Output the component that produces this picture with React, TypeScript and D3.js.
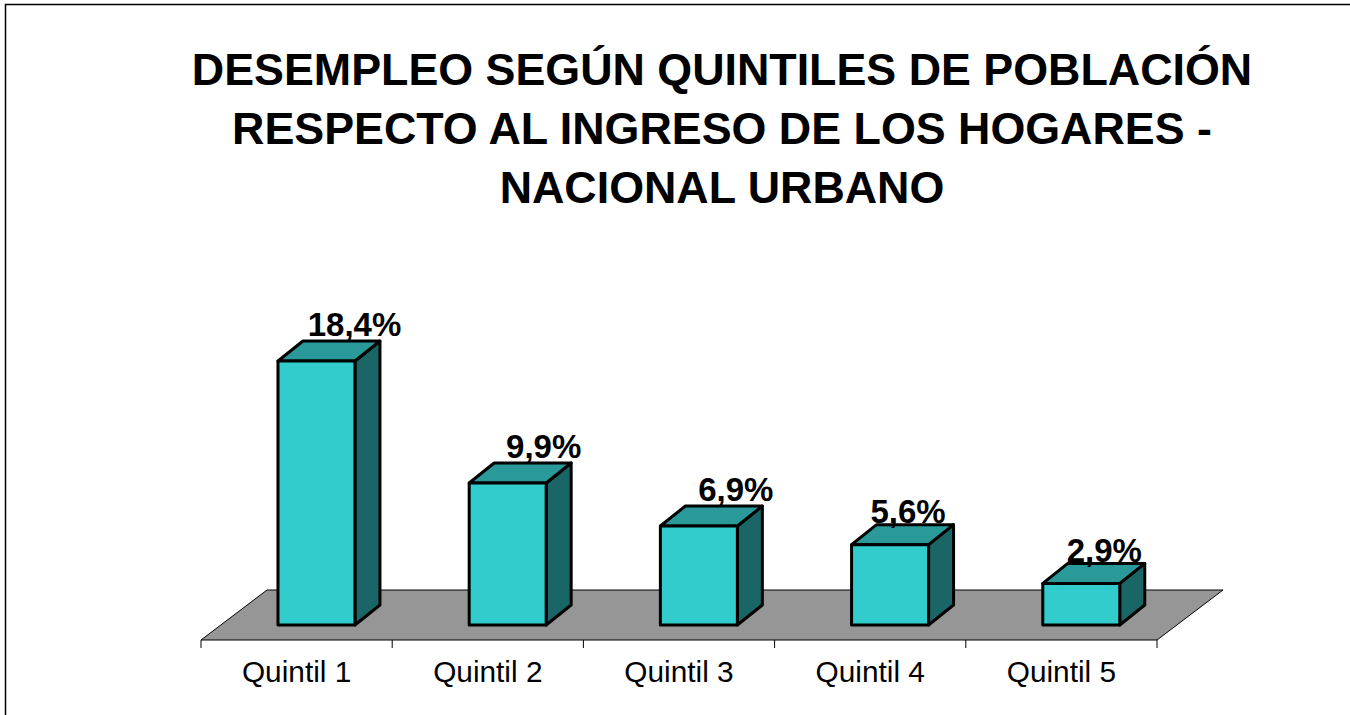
// App.tsx
import React, { useRef, useEffect } from 'react';
import * as d3 from 'd3';

const quintiles = ['Quintil 1', 'Quintil 2', 'Quintil 3', 'Quintil 4', 'Quintil 5'];
const desempleo = [18.4, 9.9, 6.9, 5.6, 2.9];
const titleLines = [
  'DESEMPLEO SEGÚN QUINTILES DE POBLACIÓN',
  'RESPECTO AL INGRESO DE LOS HOGARES -',
  'NACIONAL URBANO',
];

const WIDTH = 1350;
const HEIGHT = 715;
const FONT = '"Liberation Sans", Arial, sans-serif';

// hand placed labels, they do not sit at the same spot on every bar
const labelShiftX = [38, 36, 37, 18, 23];
const labelShiftY = [-25, -25, -25, -22, -21];

const App = () => {
  const svgRef = useRef<SVGSVGElement>(null);

  useEffect(() => {
    const svg = d3.select(svgRef.current);
    svg.selectAll('*').remove();

    const floor = { left: 201, right: 1157, front: 640, back: 590, dx: 66 };
    const depth = { dx: 25, dy: -20 };
    const baseY = 625;

    const x = d3.scaleBand()
      .domain(quintiles)
      .range([floor.left, floor.right]);

    // band only used for the categories, the ticks sit on the step boundaries
    const step = x.step();
    const barWidth = step * 0.4 + 0.5;
    const barX = (d: string) => x(d) + step * 0.4 + 0.5;

    const y = d3.scaleLinear().domain([0, 18.4]).range([baseY, 361]);

    const rows = quintiles.map((q, i) => ({ q, v: desempleo[i], i }));

    // outer border, only top and left are visible in the frame
    svg.append('path')
      .attr('d', `M5.5,${HEIGHT}V4.5H${WIDTH}`)
      .attr('fill', 'none')
      .attr('stroke', '#000')
      .attr('stroke-width', 1.5);

    // title
    svg.append('g')
      .selectAll('text')
      .data(titleLines)
      .enter()
      .append('text')
      .attr('x', 722)
      .attr('y', (d, i) => 85 + i * 59)
      .attr('text-anchor', 'middle')
      .style('font-family', FONT)
      .style('font-size', '44.8px')
      .style('font-weight', 'bold')
      .text(d => d);

    // floor
    svg.append('path')
      .attr('d', `M${floor.left},${floor.front}L${floor.left + floor.dx},${floor.back}H${floor.right + floor.dx}L${floor.right},${floor.front}Z`)
      .attr('fill', '#969696')
      .attr('stroke', '#000')
      .attr('stroke-width', 1);

    // category axis
    const axis = svg.append('g')
      .attr('transform', `translate(0,${floor.front})`)
      .call(d3.axisBottom(x).tickSize(0).tickPadding(0));
    axis.select('.domain').remove();
    axis.selectAll('text')
      .attr('y', 42)
      .attr('dy', 0)
      .attr('fill', '#000')
      .style('font-family', FONT)
      .style('font-size', '29.8px');

    svg.append('g')
      .selectAll('line')
      .data(d3.range(quintiles.length + 1))
      .enter()
      .append('line')
      .attr('x1', d => floor.left + d * step)
      .attr('x2', d => floor.left + d * step)
      .attr('y1', floor.front)
      .attr('y2', floor.front + 8)
      .attr('stroke', '#000')
      .attr('stroke-width', 1);

    // bars
    const bars = svg.append('g')
      .selectAll('g')
      .data(rows)
      .enter()
      .append('g')
      .attr('stroke', '#000')
      .attr('stroke-width', 3)
      .attr('stroke-linejoin', 'round');

    // right side
    bars.append('path')
      .attr('fill', '#1A6666')
      .attr('d', d => {
        const r = barX(d.q) + barWidth;
        return `M${r},${y(d.v)}l${depth.dx},${depth.dy}V${baseY + depth.dy}l${-depth.dx},${-depth.dy}Z`;
      });

    // top
    bars.append('path')
      .attr('fill', '#299999')
      .attr('d', d => `M${barX(d.q)},${y(d.v)}l${depth.dx},${depth.dy}h${barWidth}l${-depth.dx},${-depth.dy}Z`);

    // front
    bars.append('rect')
      .attr('fill', '#33CCCC')
      .attr('x', d => barX(d.q))
      .attr('y', d => y(d.v))
      .attr('width', barWidth)
      .attr('height', d => baseY - y(d.v));

    // value labels
    svg.append('g')
      .selectAll('text')
      .data(rows)
      .enter()
      .append('text')
      .attr('x', d => barX(d.q) + barWidth / 2 + labelShiftX[d.i])
      .attr('y', d => y(d.v) + labelShiftY[d.i])
      .attr('text-anchor', 'middle')
      .style('font-family', FONT)
      .style('font-size', '33px')
      .style('font-weight', 'bold')
      .text(d => d.v.toFixed(1).replace('.', ',') + '%');
  }, []);

  return (
    <svg
      ref={svgRef}
      width={WIDTH}
      height={HEIGHT}
      style={{ position: 'absolute', top: 0, left: 0, background: '#fff' }}
    />
  );
};

export default App;
